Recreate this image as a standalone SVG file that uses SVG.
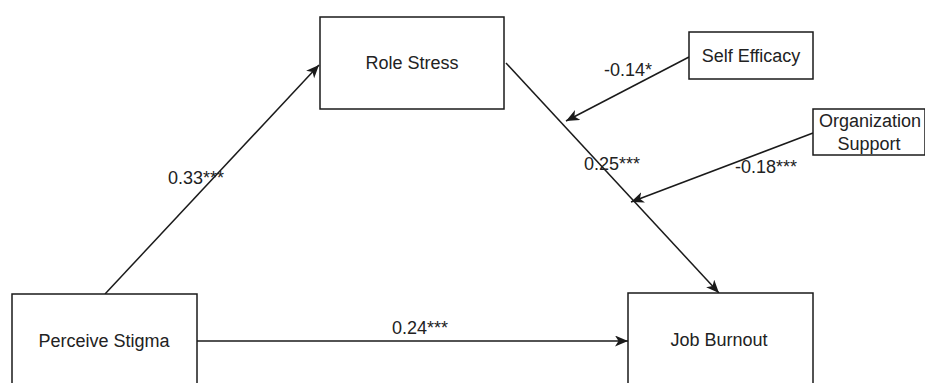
<svg xmlns="http://www.w3.org/2000/svg" width="925" height="383" viewBox="0 0 925 383">
  <style>
    .box { fill: #ffffff; stroke: #1a1a1a; stroke-width: 1.5; }
    .lbl { font-family: "Liberation Sans", Arial, sans-serif; font-size: 18px; fill: #222222; text-anchor: middle; }
    .edge { fill: none; stroke: #1a1a1a; stroke-width: 1.5; marker-end: url(#arrow); }
  </style>
  <defs>
    <marker id="arrow" markerWidth="14" markerHeight="12" refX="13" refY="5.5" orient="auto" markerUnits="userSpaceOnUse">
      <path d="M0,0 L13,5.5 L0,11 L3.5,5.5 Z" fill="#1a1a1a"/>
    </marker>
  </defs>
  <rect width="925" height="383" fill="#ffffff"/>

  <!-- connectors -->
  <g id="connectors">
    <line class="edge" x1="105" y1="294" x2="319" y2="65"/>
    <line class="edge" x1="506" y1="63" x2="719" y2="293"/>
    <line class="edge" x1="197" y1="341" x2="628" y2="341"/>
    <line class="edge" x1="689" y1="57" x2="566" y2="121"/>
    <line class="edge" x1="813" y1="133" x2="631" y2="202"/>
    <text class="lbl" x="196" y="184">0.33***</text>
    <text class="lbl" x="612" y="170">0.25***</text>
    <text class="lbl" x="420" y="334">0.24***</text>
    <text class="lbl" x="628" y="76">-0.14*</text>
    <text class="lbl" x="766" y="173">-0.18***</text>
  </g>

  <g id="role-stress">
    <rect class="box" x="320" y="17" width="184" height="92"/>
    <text class="lbl" x="412" y="69">Role Stress</text>
  </g>

  <g id="self-efficacy">
    <rect class="box" x="689" y="32" width="124" height="47"/>
    <text class="lbl" x="751" y="62">Self Efficacy</text>
  </g>

  <g id="organization-support">
    <rect class="box" x="813" y="109" width="112" height="46"/>
    <text class="lbl" x="870" y="127">Organization</text>
    <text class="lbl" x="869" y="150">Support</text>
  </g>

  <g id="perceive-stigma">
    <rect class="box" x="12" y="294" width="185" height="100"/>
    <text class="lbl" x="104" y="347">Perceive Stigma</text>
  </g>

  <g id="job-burnout">
    <rect class="box" x="628" y="293" width="185" height="100"/>
    <text class="lbl" x="719" y="346">Job Burnout</text>
  </g>
</svg>
